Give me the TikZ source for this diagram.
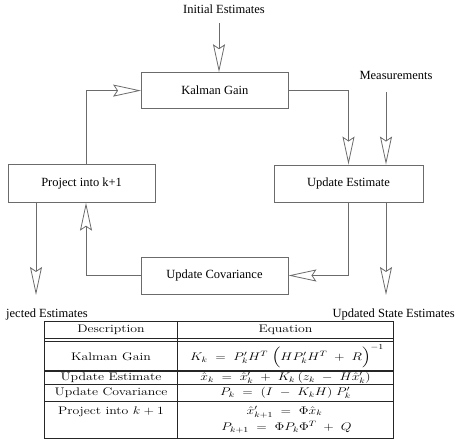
\documentclass[tikz,border=0pt]{standalone}
\usepackage{fix-cm}
\usepackage{fontspec}
\usepackage{amsmath}
\usepackage{graphicx}
\newfontfamily\tms{Liberation Serif}
\newcommand\tsq[1]{\scalebox{1}[0.8]{#1}}
\usetikzlibrary{arrows.meta}
\definecolor{ln}{gray}{0.42}
\definecolor{tl}{gray}{0.15}
\begin{document}
\begin{tikzpicture}[x=1pt,y=-1pt,
  box/.style={draw=ln, line width=0.9pt, font=\tms\fontsize{12.5}{14}\selectfont, inner sep=0pt},
  lbl/.style={font=\tms\fontsize{12.5}{14}\selectfont, inner sep=0pt},
  arr/.style={draw=ln, line width=0.8pt, -{Stealth[open, length=28pt, width=12pt, inset=4pt]}},
  tline/.style={draw=tl, line width=1.1pt},
  tt/.style={font=\fontsize{13.8}{16}\selectfont, inner sep=0pt}]
\useasboundingbox (0,0) rectangle (460,446);
% boxes
\node[box, minimum width=146.5pt, minimum height=35.8pt] (kg) at (214.8,90.6) {Kalman Gain};
\node[box, minimum width=149pt, minimum height=37pt] (ue) at (348.5,183.5) {Update Estimate};
\node[box, minimum width=147.3pt, minimum height=37.3pt] (pj) at (81.6,183.6) {Project into k+1};
\node[box, minimum width=147pt, minimum height=37pt] (uc) at (214.5,275.5) {Update Covariance};
% labels
\node[lbl] (ie) at (224,9) {Initial Estimates};
\node[lbl] (ms) at (396,75) {Measurements};
\node[lbl, anchor=west] (pe) at (6,314) {jected Estimates};
\node[lbl, anchor=east] (us) at (455,314) {Updated State Estimates};
% helper coordinates
\coordinate (ies) at (219,23);
\coordinate (mss) at (386,92);
\coordinate (lx) at (86,92);
\coordinate (pee) at (36,295);
\coordinate (use) at (386,295);
% connectors
\draw[arr] (ies) -- (ies |- kg.north);
\draw[arr] (kg.east) -| (ue.north);
\draw[arr] (mss) -- (mss |- ue.north);
\draw[arr] (ue.south) |- (uc.east);
\draw[arr] (uc.west) -| (pj.south -| lx);
\draw[arr] (pj.north -| lx) |- (kg.west);
\draw[arr] (pj.south -| pee) -- (pee);
\draw[arr] (ue.south -| use) -- (use);
% table
\coordinate (tA) at (44.7,321.7);
\coordinate (tB) at (393.5,438.5);
\coordinate (tc) at (177.6,0);
\draw[tline] (tA) rectangle (tB);
\draw[tline] (tc |- tA) -- (tc |- tB);
\draw[tline] (44.7,338.3) -- (393.5,338.3);
\draw[tline] (44.7,341.7) -- (393.5,341.7);
\draw[tline] (44.7,371) -- (393.5,371);
\draw[tline] (44.7,384.3) -- (393.5,384.3);
\draw[tline] (44.7,401.5) -- (393.5,401.5);
\node[tt] (h1) at (111,330) {\tsq{Description}};
\node[tt] (h2) at (285.5,330) {\tsq{Equation}};
\node[tt] (d1) at (111,357) {\tsq{Kalman Gain}};
\node[tt] (e1) at (287,356.5) {\tsq{$K_k \;=\; P'_k H^T \;\Bigl(H P'_k H^T \;+\; R\Bigr)^{-1}$}};
\node[tt] (d2) at (111,377.8) {\tsq{Update Estimate}};
\node[tt] (e2) at (285.5,377.8) {\tsq{$\hat{x}_k \;=\; \hat{x}'_k \;+\; K_k\,(z_k \;-\; H\hat{x}'_k)$}};
\node[tt] (d3) at (111,392.8) {\tsq{Update Covariance}};
\node[tt] (e3) at (285.5,392.8) {\tsq{$P_k \;=\; (I \;-\; K_kH)\;P'_k$}};
\node[tt] (d4) at (111,412) {\tsq{Project into $k+1$}};
\node[tt] (e4) at (284.5,412) {\tsq{$\hat{x}'_{k+1} \;=\; \Phi\hat{x}_k$}};
\node[tt] (e5) at (286.5,427.5) {\tsq{$P_{k+1} \;=\; \Phi P_k\Phi^T \;+\; Q$}};
\end{tikzpicture}
\end{document}
